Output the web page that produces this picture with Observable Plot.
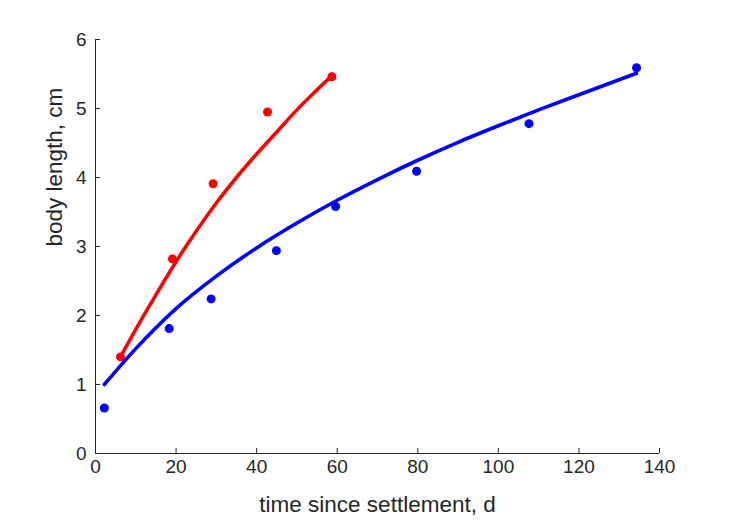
<!DOCTYPE html>
<html>
<head>
<meta charset="utf-8">
<script src="https://cdn.jsdelivr.net/npm/d3@7"></script>
<script src="https://cdn.jsdelivr.net/npm/@observablehq/plot@0.6"></script>
<style>
  html, body { margin: 0; padding: 0; background: #ffffff; }
  #chart { width: 729px; height: 521px; }
</style>
</head>
<body>
<div id="chart"></div>
<script>
const blueT = [2.2, 18.3, 28.7, 44.9, 59.6, 79.7, 107.6, 134.3];
const blueL = [0.66, 1.81, 2.24, 2.94, 3.58, 4.09, 4.78, 5.59];
const redT = [6.2, 19.1, 29.2, 42.7, 58.7];
const redL = [1.40, 2.82, 3.91, 4.95, 5.46];

// Fitted curves
const blueFitT = [2.2, 10, 20, 30, 40, 50, 60, 70, 80, 90, 100, 110, 120, 134.3];
const blueFitL = [1.00, 1.52, 2.10, 2.57, 2.98, 3.34, 3.67, 3.97, 4.25, 4.51, 4.75, 4.98, 5.20, 5.51];
const redFitT = [6.2, 10, 15, 20, 25, 30, 35, 40, 45, 50, 55, 58.6];
const redFitL = [1.40, 1.80, 2.30, 2.78, 3.22, 3.63, 4.00, 4.34, 4.66, 4.98, 5.27, 5.47];

// Axis ticks and labels
const xTicks = [0, 20, 40, 60, 80, 100, 120, 140];
const yTicks = [0, 1, 2, 3, 4, 5, 6];
const xLabel = "time since settlement, d";
const yLabel = "body length, cm";

const zip = (xs, ys) => xs.map((x, i) => ({x, y: ys[i]}));
const bluePts = zip(blueT, blueL);
const redPts = zip(redT, redL);
const blueFit = zip(blueFitT, blueFitL);
const redFit = zip(redFitT, redFitL);

const axisColor = "#262626";
const font = "'Liberation Sans', Arial, Helvetica, sans-serif";

const chart = Plot.plot({
  width: 729,
  height: 521,
  marginLeft: 95,
  marginRight: 70,
  marginTop: 39,
  marginBottom: 68,
  style: {fontFamily: font, background: "#ffffff", color: axisColor},
  x: {domain: [0, 140], axis: null},
  y: {domain: [0, 6], axis: null},
  marks: [
    // axis lines
    Plot.ruleX([0], {stroke: axisColor, strokeWidth: 1}),
    Plot.ruleY([0], {stroke: axisColor, strokeWidth: 1}),
    // inward ticks
    Plot.axisX(xTicks, {tickSize: -5, tickFormat: () => "", stroke: axisColor, label: null}),
    Plot.axisY(yTicks, {tickSize: -5, tickFormat: () => "", stroke: axisColor, label: null}),
    // tick labels
    Plot.text(xTicks, {x: d => d, frameAnchor: "bottom", dy: 19, text: d => String(d), fontSize: 19, fill: axisColor}),
    Plot.text(yTicks, {y: d => d, frameAnchor: "left", dx: -9, textAnchor: "end", text: d => String(d), fontSize: 19, fill: axisColor}),
    // axis titles
    Plot.text([xLabel], {frameAnchor: "bottom", dy: 58, text: d => d, fontSize: 22.5, fill: axisColor}),
    Plot.text([yLabel], {frameAnchor: "left", dx: -41, rotate: -90, text: d => d, fontSize: 22.5, fill: axisColor}),
    // data points
    Plot.dot(bluePts, {x: "x", y: "y", r: 4.5, fill: "#0000ff", stroke: "none"}),
    Plot.dot(redPts, {x: "x", y: "y", r: 4.5, fill: "#ff0000", stroke: "none"}),
    // fitted curves
    Plot.line(blueFit, {x: "x", y: "y", stroke: "#0000ff", strokeWidth: 3.6, curve: "monotone-x"}),
    Plot.line(redFit, {x: "x", y: "y", stroke: "#ff0000", strokeWidth: 3.6, curve: "monotone-x"})
  ]
});

document.getElementById("chart").appendChild(chart);
</script>
</body>
</html>
